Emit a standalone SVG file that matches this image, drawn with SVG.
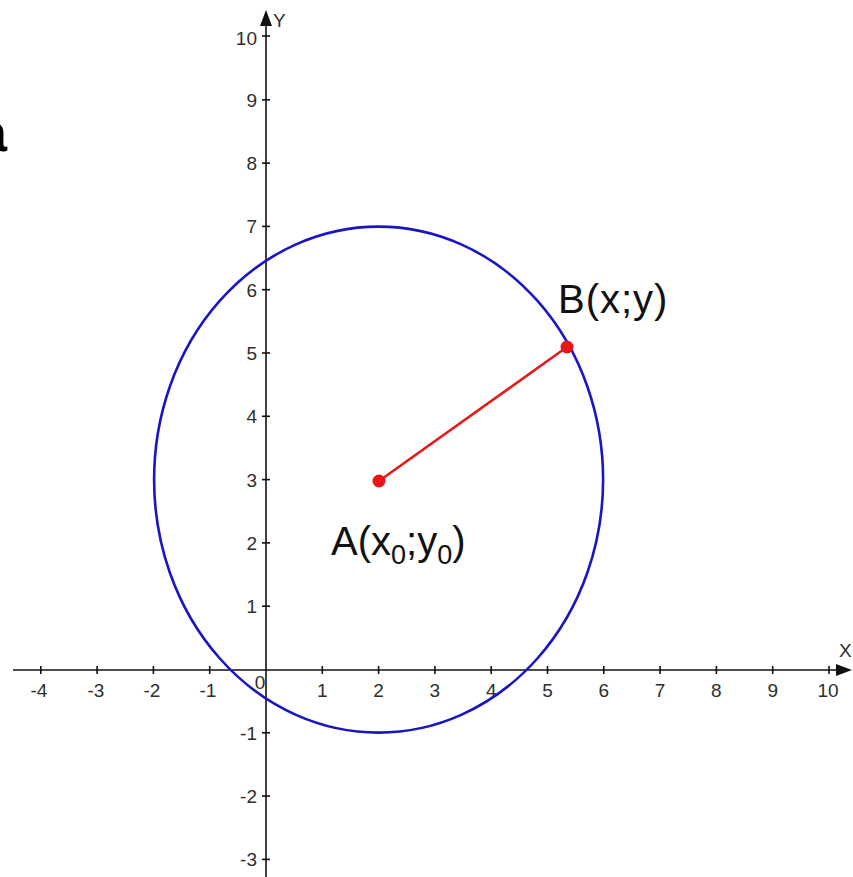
<svg xmlns="http://www.w3.org/2000/svg" width="853" height="877" viewBox="0 0 853 877">
  <style>
    .axis { stroke: #111; stroke-width: 1.6; fill: none; }
    .tick { stroke: #111; stroke-width: 1.6; }
    .tl { font-family: "Liberation Sans Narrow", "Liberation Sans", Arial, sans-serif; font-size: 19px; fill: #2e2e2e; }
    .tx { text-anchor: middle; }
    .ty { text-anchor: end; }
    .big { font-family: "Liberation Sans", Arial, sans-serif; font-size: 40px; fill: #111; }
    .sub { font-size: 27px; }
  </style>
  <rect width="853" height="877" fill="#ffffff"/>

  <text x="-23" y="151" font-family="Liberation Sans, Arial, sans-serif" font-weight="bold" font-size="54" fill="#000">a</text>

  <g id="axes">
    <line class="axis" x1="13" y1="670" x2="840" y2="670"/>
    <polygon points="852,670 836,664 836,676" fill="#111"/>
    <line class="axis" x1="266" y1="877" x2="266" y2="22"/>
    <polygon points="266,10 260,26 272,26" fill="#111"/>
    <text class="tl" x="839" y="657" font-size="18">X</text>
    <text class="tl" x="273" y="27" font-size="18">Y</text>
  </g>

  <g id="x-ticks">
    <line class="tick" x1="40.8" y1="666" x2="40.8" y2="674"/>
    <line class="tick" x1="97.1" y1="666" x2="97.1" y2="674"/>
    <line class="tick" x1="153.4" y1="666" x2="153.4" y2="674"/>
    <line class="tick" x1="209.7" y1="666" x2="209.7" y2="674"/>
    <line class="tick" x1="322.3" y1="666" x2="322.3" y2="674"/>
    <line class="tick" x1="378.6" y1="666" x2="378.6" y2="674"/>
    <line class="tick" x1="434.9" y1="666" x2="434.9" y2="674"/>
    <line class="tick" x1="491.2" y1="666" x2="491.2" y2="674"/>
    <line class="tick" x1="547.5" y1="666" x2="547.5" y2="674"/>
    <line class="tick" x1="603.8" y1="666" x2="603.8" y2="674"/>
    <line class="tick" x1="660.1" y1="666" x2="660.1" y2="674"/>
    <line class="tick" x1="716.4" y1="666" x2="716.4" y2="674"/>
    <line class="tick" x1="772.7" y1="666" x2="772.7" y2="674"/>
    <line class="tick" x1="829" y1="666" x2="829" y2="674"/>
    <text class="tl tx" x="39" y="697">-4</text>
    <text class="tl tx" x="96" y="697">-3</text>
    <text class="tl tx" x="152" y="697">-2</text>
    <text class="tl tx" x="208" y="697">-1</text>
    <text class="tl tx" x="260" y="689">0</text>
    <text class="tl tx" x="322.3" y="697">1</text>
    <text class="tl tx" x="378.6" y="697">2</text>
    <text class="tl tx" x="434.9" y="697">3</text>
    <text class="tl tx" x="491.2" y="697">4</text>
    <text class="tl tx" x="547.5" y="697">5</text>
    <text class="tl tx" x="603.8" y="697">6</text>
    <text class="tl tx" x="660.1" y="697">7</text>
    <text class="tl tx" x="716.4" y="697">8</text>
    <text class="tl tx" x="772.7" y="697">9</text>
    <text class="tl tx" x="828" y="697">10</text>
  </g>

  <g id="y-ticks">
    <line class="tick" x1="262" y1="36" x2="270" y2="36"/>
    <line class="tick" x1="262" y1="99.8" x2="270" y2="99.8"/>
    <line class="tick" x1="262" y1="163.1" x2="270" y2="163.1"/>
    <line class="tick" x1="262" y1="226.4" x2="270" y2="226.4"/>
    <line class="tick" x1="262" y1="289.7" x2="270" y2="289.7"/>
    <line class="tick" x1="262" y1="353" x2="270" y2="353"/>
    <line class="tick" x1="262" y1="416.3" x2="270" y2="416.3"/>
    <line class="tick" x1="262" y1="479.6" x2="270" y2="479.6"/>
    <line class="tick" x1="262" y1="542.9" x2="270" y2="542.9"/>
    <line class="tick" x1="262" y1="606.2" x2="270" y2="606.2"/>
    <line class="tick" x1="262" y1="732.8" x2="270" y2="732.8"/>
    <line class="tick" x1="262" y1="796.1" x2="270" y2="796.1"/>
    <line class="tick" x1="262" y1="859.4" x2="270" y2="859.4"/>
    <text class="tl ty" x="257" y="45">10</text>
    <text class="tl ty" x="257" y="106.5">9</text>
    <text class="tl ty" x="257" y="170">8</text>
    <text class="tl ty" x="257" y="233">7</text>
    <text class="tl ty" x="257" y="296.5">6</text>
    <text class="tl ty" x="257" y="360">5</text>
    <text class="tl ty" x="257" y="423">4</text>
    <text class="tl ty" x="257" y="486.5">3</text>
    <text class="tl ty" x="257" y="549.5">2</text>
    <text class="tl ty" x="257" y="613">1</text>
    <text class="tl ty" x="257" y="739.5">-1</text>
    <text class="tl ty" x="257" y="803">-2</text>
    <text class="tl ty" x="257" y="866">-3</text>
  </g>

  <g id="circle">
    <ellipse cx="378.6" cy="479.6" rx="224.5" ry="253" fill="none" stroke="#1a14c4" stroke-width="2.6"/>
  </g>

  <g id="connectors">
    <line x1="379" y1="481" x2="567" y2="347" stroke="#e31b1b" stroke-width="2.6"/>
  </g>

  <g id="pointA">
    <circle cx="379" cy="481" r="6.5" fill="#e81616"/>
    <text class="big" x="331" y="555">A(x<tspan class="sub" dy="9">0</tspan><tspan dy="-9">;y</tspan><tspan class="sub" dy="9">0</tspan><tspan dy="-9">)</tspan></text>
  </g>

  <g id="pointB">
    <circle cx="567" cy="347" r="6.5" fill="#e81616"/>
    <text class="big" x="558" y="313" letter-spacing="1">B(x;y)</text>
  </g>
</svg>
